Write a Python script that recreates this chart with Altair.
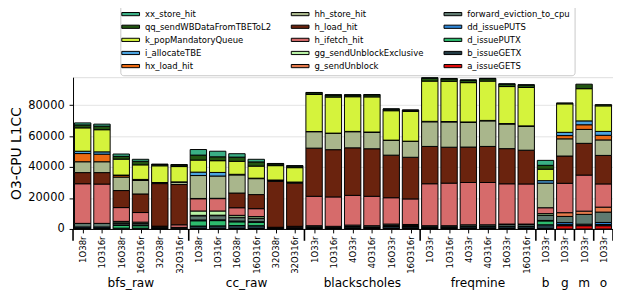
import altair as alt
import pandas as pd

# ---------------- data ----------------
group_names = ["bfs_raw", "cc_raw", "blackscholes", "freqmine", "b", "g", "m", "o"]
group_sizes = [6, 6, 6, 6, 1, 1, 1, 1]
bar_labels = ["1O38r", "1O316r", "16O38r", "16O316r", "32O38r", "32O316r",
              "1O38r", "1O316r", "16O38r", "16O316r", "32O38r", "32O316r",
              "1O33r", "1O316r", "4O33r", "4O316r", "16O33r", "16O316r",
              "1O33r", "1O316r", "4O33r", "4O316r", "16O33r", "16O316r",
              "1O33r", "1O33r", "1O33r", "1O33r"]

# stack order, bottom first
series = ["a_issueGETS", "b_issueGETX", "d_issuePUTX", "dd_issuePUTS",
          "forward_eviction_to_cpu", "g_sendUnblock", "gg_sendUnblockExclusive",
          "h_ifetch_hit", "h_load_hit", "hh_store_hit", "hx_load_hit",
          "i_allocateTBE", "k_popMandatoryQueue", "qq_sendWBDataFromTBEToL2",
          "xx_store_hit"]
series_colors = ["#e00b0b", "#223b44", "#2dbb6e", "#2f86d6",
                 "#5f7a70", "#e57a4c", "#b9f2a6",
                 "#d66b6b", "#6a230e", "#a9b68c", "#ec6a12",
                 "#4ba3e0", "#d5f33c", "#225511",
                 "#3aaf85"]

a_issueGETS = [0, 0, 0, 0, 200, 0, 200, 200, 300, 300, 200, 200,
               300, 300, 300, 300, 300, 300, 300, 300, 300, 300, 300, 300,
               200, 2100, 2100, 2100]
b_issueGETX = [500, 500, 500, 500, 600, 500, 1700, 1800, 1900, 1800, 500, 500,
               800, 600, 900, 700, 1200, 1000, 800, 800, 1100, 1100, 1200, 1200,
               2500, 700, 1000, 800]
d_issuePUTX = [200, 200, 1800, 1600, 0, 0, 3400, 3400, 2400, 2200, 0, 0,
               300, 200, 400, 300, 400, 300, 300, 300, 400, 400, 270, 270,
               2500, 0, 0, 0]
dd_issuePUTS = [600, 600, 300, 300, 0, 0, 500, 500, 500, 400, 0, 0,
                0, 0, 0, 0, 270, 0, 0, 0, 0, 0, 0, 0,
                300, 1300, 0, 1300]
forward_eviction_to_cpu = [2300, 2300, 1200, 1000, 600, 500, 2700, 2700, 2200, 2000, 300, 400,
                           700, 600, 900, 800, 1000, 600, 700, 700, 900, 900, 1100, 1100,
                           3200, 4000, 6300, 6700]
g_sendUnblock = [0, 0, 200, 200, 0, 0, 300, 300, 300, 300, 0, 0,
                 0, 0, 0, 0, 0, 700, 0, 0, 0, 0, 300, 300,
                 200, 2400, 2100, 3200]
gg_sendUnblockExclusive = [0, 0, 900, 800, 0, 0, 2800, 2700, 1200, 1000, 0, 0,
                           0, 0, 0, 0, 0, 0, 0, 0, 0, 0, 0, 0,
                           1000, 0, 0, 0]
h_ifetch_hit = [25600, 25400, 8900, 6200, 400, 1700, 7900, 8000, 4900, 5100, 100, 600,
                19000, 19000, 19200, 19000, 17000, 16500, 27100, 27500, 27300, 27300, 26000, 25900,
                3800, 19000, 23300, 15000]
h_load_hit = [7200, 7400, 11000, 12000, 27500, 26000, 200, 200, 9500, 9100, 29600, 27900,
              31100, 30500, 30700, 30700, 27500, 26900, 24100, 23200, 22900, 23300, 22700, 21800,
              0, 17600, 20500, 18400]
hh_store_hit = [7000, 7000, 8700, 8700, 600, 1500, 14800, 14400, 11700, 10300, 600, 500,
                10600, 10500, 10400, 10600, 9500, 10200, 15900, 16300, 15900, 16500, 15900, 15400,
                15900, 11100, 9000, 10000]
hx_load_hit = [5300, 4900, 1000, 500, 0, 0, 0, 0, 0, 0, 0, 0,
               0, 0, 0, 0, 0, 0, 0, 0, 0, 0, 0, 0,
               0, 2100, 3000, 3000]
i_allocateTBE = [1500, 1500, 300, 200, 100, 200, 2200, 2300, 400, 300, 300, 200,
                 150, 200, 200, 200, 200, 200, 300, 300, 300, 300, 300, 300,
                 1600, 2100, 2500, 2500]
k_popMandatoryQueue = [15100, 14300, 10300, 9400, 10800, 9900, 7800, 7600, 8400, 7800, 9300, 9300,
                       23900, 23300, 22400, 22700, 19000, 19200, 26000, 26000, 25400, 25400, 23900, 24800,
                       7400, 18400, 20800, 16500]
qq_sendWBDataFromTBEToL2 = [1900, 2300, 1800, 2300, 800, 1000, 3200, 2500, 2700, 2700, 1100, 1000,
                            1100, 1300, 1100, 1300, 1000, 800, 1800, 1500, 1500, 1500, 1500, 1500,
                            2500, 600, 2900, 800]
xx_store_hit = [1300, 1300, 1500, 1300, 300, 300, 3600, 3600, 2200, 1700, 300, 300,
                200, 200, 200, 200, 200, 100, 400, 300, 300, 300, 300, 300,
                3200, 0, 0, 0]

series_values = [a_issueGETS, b_issueGETX, d_issuePUTX, dd_issuePUTS,
                 forward_eviction_to_cpu, g_sendUnblock, gg_sendUnblockExclusive,
                 h_ifetch_hit, h_load_hit, hh_store_hit, hx_load_hit,
                 i_allocateTBE, k_popMandatoryQueue, qq_sendWBDataFromTBEToL2,
                 xx_store_hit]

y_ticks = [0, 20000, 40000, 60000, 80000]

# ---------------- tables ----------------
rows = []
for si, (name, vals) in enumerate(zip(series, series_values)):
    for bi, v in enumerate(vals):
        if v > 0:
            rows.append({"pos": bi, "series": name, "order": si, "value": v})
df = pd.DataFrame(rows)

starts = []
acc = 0
for s in group_sizes:
    starts.append(acc)
    acc += s
groups_df = pd.DataFrame({
    "name": group_names,
    "center": [st + (sz - 1) / 2 for st, sz in zip(starts, group_sizes)],
})
sep_df = pd.DataFrame({"b": [st - 0.5 for st in starts] + [acc - 0.5]})

# legend lists the series top of stack first (filled column by column)
legend_domain = series[::-1]
color_of = dict(zip(series, series_colors))
legend_range = [color_of[s] for s in legend_domain]

# ---------------- chart ----------------
W, H = 548, 154
FONT = "DejaVu Sans"
label_array = "[" + ",".join("'%s'" % l for l in bar_labels) + "]"

xscale = alt.Scale(domain=[-0.5, len(bar_labels) - 0.5], nice=False, zero=False)
yscale = alt.Scale(domain=[0, 98000], nice=False)

x_axis = alt.Axis(values=list(range(len(bar_labels))),
                  labelExpr=label_array + "[round(datum.value)]",
                  labelAngle=270, labelFontSize=8.7, labelPadding=3,
                  labelOverlap=False, labelBound=False, labelFlush=False,
                  tickSize=4, tickColor="black", domainColor="black",
                  labelColor="black", grid=False, labelFont=FONT, title=None)

bars = alt.Chart(df).transform_stack(
    stack="value", groupby=["pos"],
    sort=[alt.SortField("order", order="ascending")],
    as_=["y0", "y1"],
).transform_calculate(
    xl="datum.pos - 0.425", xr="datum.pos + 0.425"
).mark_bar(stroke="black", strokeWidth=1, opacity=1).encode(
    x=alt.X("xl:Q", scale=xscale, title=None, axis=x_axis),
    x2="xr:Q",
    y=alt.Y("y0:Q", scale=yscale, title="O3-CPU L1CC",
            axis=alt.Axis(values=y_ticks, format="d", grid=True,
                          gridColor="#e3e3e3", gridWidth=1,
                          labelFontSize=11.6, titleFontSize=14,
                          titleFontWeight="normal", titleColor="black",
                          labelColor="black", tickColor="black",
                          domainColor="black", tickSize=4, labelPadding=5,
                          titlePadding=4, labelFont=FONT, titleFont=FONT)),
    y2="y1:Q",
    color=alt.Color("series:N",
                    scale=alt.Scale(domain=legend_domain, range=legend_range),
                    legend=alt.Legend(
                        title=None, orient="none", legendX=48, legendY=-75,
                        columns=3, symbolType="M-1.5,-0.27L1.5,-0.27L1.5,0.27L-1.5,0.27Z",
                        symbolSize=144, symbolStrokeColor="black",
                        symbolStrokeWidth=1, symbolOpacity=1,
                        labelFontSize=8.6, labelFont=FONT, labelColor="black",
                        labelOffset=8, labelLimit=0,
                        columnPadding=18, rowPadding=1.3, padding=4,
                        strokeColor="#c8c8c8", fillColor="white",
                        cornerRadius=3)),
)

seps = alt.Chart(sep_df).mark_rule(color="black", strokeWidth=1.6).encode(
    x=alt.X("b:Q", scale=xscale, title=None, axis=x_axis),
    y=alt.value(H),
    y2=alt.value(H + 12),
)

glabels = alt.Chart(groups_df).mark_text(
    fontSize=12.3, font=FONT, color="black", baseline="middle", align="center"
).encode(
    x=alt.X("center:Q", scale=xscale, title=None, axis=x_axis),
    y=alt.value(H + 55),
    text="name:N",
)

chart = alt.layer(bars, seps, glabels).properties(
    width=W, height=H,
    autosize=alt.AutoSizeParams(type="none"),
    padding={"left": 66, "top": 68, "right": 0, "bottom": 80},
).configure_view(stroke="black", strokeWidth=1).configure(font=FONT).configure_axisX(
    labelOverlap=False, labelAngle=270, labelFontSize=8.7
)

chart.save("out.html", embed_options={"renderer": "svg", "actions": False})
